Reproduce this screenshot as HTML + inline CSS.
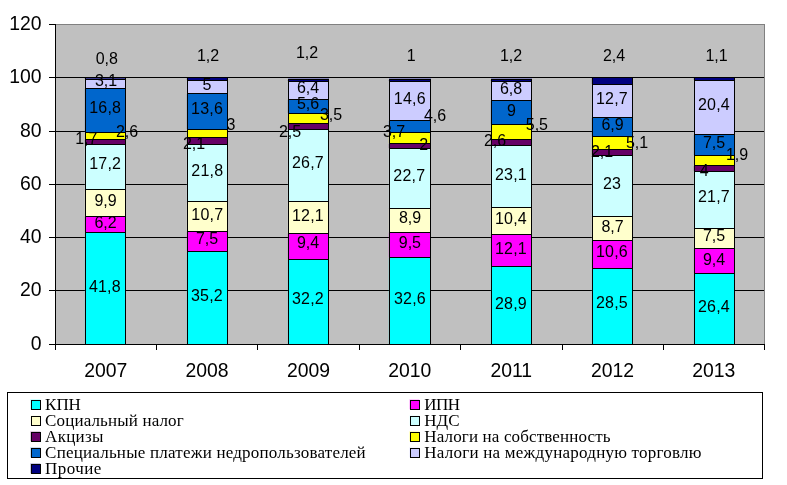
<!DOCTYPE html>
<html lang="ru"><head><meta charset="utf-8"><title>Chart</title>
<style>
html,body{margin:0;padding:0;background:#fff;}
body{width:787px;height:485px;overflow:hidden;}
svg{display:block;}
.ax{font-family:"Liberation Sans",sans-serif;font-size:20px;fill:#000;}
.dl{font-family:"Liberation Sans",sans-serif;font-size:16px;fill:#000;}
.lg{font-family:"Liberation Serif",serif;font-size:17px;fill:#000;}
</style></head>
<body>
<svg width="787" height="485" viewBox="0 0 787 485">
<rect x="0" y="0" width="787" height="485" fill="#ffffff"/>
<rect x="56" y="24" width="709" height="320" fill="#c0c0c0" shape-rendering="crispEdges"/>
<rect x="56" y="24" width="709" height="1" fill="#808080" shape-rendering="crispEdges"/>
<rect x="764" y="24" width="1" height="320" fill="#808080" shape-rendering="crispEdges"/>
<rect x="56" y="290" width="708" height="1" fill="#000" shape-rendering="crispEdges"/>
<rect x="56" y="237" width="708" height="1" fill="#000" shape-rendering="crispEdges"/>
<rect x="56" y="184" width="708" height="1" fill="#000" shape-rendering="crispEdges"/>
<rect x="56" y="131" width="708" height="1" fill="#000" shape-rendering="crispEdges"/>
<rect x="56" y="77" width="708" height="1" fill="#000" shape-rendering="crispEdges"/>
<rect x="85" y="232" width="41" height="113" fill="#000" shape-rendering="crispEdges"/><rect x="86" y="233" width="39" height="111" fill="#00ffff" shape-rendering="crispEdges"/><rect x="84" y="233" width="1" height="111" fill="#00ffff" opacity="0.12" shape-rendering="crispEdges"/>
<rect x="85" y="216" width="41" height="17" fill="#000" shape-rendering="crispEdges"/><rect x="86" y="217" width="39" height="15" fill="#ff00ff" shape-rendering="crispEdges"/><rect x="84" y="217" width="1" height="15" fill="#ff00ff" opacity="0.12" shape-rendering="crispEdges"/>
<rect x="85" y="189" width="41" height="28" fill="#000" shape-rendering="crispEdges"/><rect x="86" y="190" width="39" height="26" fill="#ffffcc" shape-rendering="crispEdges"/><rect x="84" y="190" width="1" height="26" fill="#ffffcc" opacity="0.12" shape-rendering="crispEdges"/>
<rect x="85" y="144" width="41" height="46" fill="#000" shape-rendering="crispEdges"/><rect x="86" y="145" width="39" height="44" fill="#ccffff" shape-rendering="crispEdges"/><rect x="84" y="145" width="1" height="44" fill="#ccffff" opacity="0.12" shape-rendering="crispEdges"/>
<rect x="85" y="139" width="41" height="6" fill="#000" shape-rendering="crispEdges"/><rect x="86" y="140" width="39" height="4" fill="#660066" shape-rendering="crispEdges"/><rect x="84" y="140" width="1" height="4" fill="#660066" opacity="0.12" shape-rendering="crispEdges"/>
<rect x="85" y="132" width="41" height="8" fill="#000" shape-rendering="crispEdges"/><rect x="86" y="133" width="39" height="6" fill="#ffff00" shape-rendering="crispEdges"/><rect x="84" y="133" width="1" height="6" fill="#ffff00" opacity="0.12" shape-rendering="crispEdges"/>
<rect x="85" y="88" width="41" height="45" fill="#000" shape-rendering="crispEdges"/><rect x="86" y="89" width="39" height="43" fill="#0066cc" shape-rendering="crispEdges"/><rect x="84" y="89" width="1" height="43" fill="#0066cc" opacity="0.12" shape-rendering="crispEdges"/>
<rect x="85" y="79" width="41" height="10" fill="#000" shape-rendering="crispEdges"/><rect x="86" y="80" width="39" height="8" fill="#ccccff" shape-rendering="crispEdges"/><rect x="84" y="80" width="1" height="8" fill="#ccccff" opacity="0.12" shape-rendering="crispEdges"/>
<rect x="85" y="77" width="41" height="3" fill="#000" shape-rendering="crispEdges"/><rect x="86" y="78" width="39" height="1" fill="#000080" shape-rendering="crispEdges"/><rect x="84" y="78" width="1" height="1" fill="#000080" opacity="0.12" shape-rendering="crispEdges"/>
<rect x="86" y="78" width="39" height="1" fill="#38388c" opacity="1" shape-rendering="crispEdges"/>
<rect x="187" y="251" width="41" height="94" fill="#000" shape-rendering="crispEdges"/><rect x="188" y="252" width="39" height="92" fill="#00ffff" shape-rendering="crispEdges"/><rect x="186" y="252" width="1" height="92" fill="#00ffff" opacity="0.12" shape-rendering="crispEdges"/>
<rect x="187" y="231" width="41" height="21" fill="#000" shape-rendering="crispEdges"/><rect x="188" y="232" width="39" height="19" fill="#ff00ff" shape-rendering="crispEdges"/><rect x="186" y="232" width="1" height="19" fill="#ff00ff" opacity="0.12" shape-rendering="crispEdges"/>
<rect x="187" y="201" width="41" height="31" fill="#000" shape-rendering="crispEdges"/><rect x="188" y="202" width="39" height="29" fill="#ffffcc" shape-rendering="crispEdges"/><rect x="186" y="202" width="1" height="29" fill="#ffffcc" opacity="0.12" shape-rendering="crispEdges"/>
<rect x="187" y="144" width="41" height="58" fill="#000" shape-rendering="crispEdges"/><rect x="188" y="145" width="39" height="56" fill="#ccffff" shape-rendering="crispEdges"/><rect x="186" y="145" width="1" height="56" fill="#ccffff" opacity="0.12" shape-rendering="crispEdges"/>
<rect x="187" y="137" width="41" height="8" fill="#000" shape-rendering="crispEdges"/><rect x="188" y="138" width="39" height="6" fill="#660066" shape-rendering="crispEdges"/><rect x="186" y="138" width="1" height="6" fill="#660066" opacity="0.12" shape-rendering="crispEdges"/>
<rect x="187" y="129" width="41" height="9" fill="#000" shape-rendering="crispEdges"/><rect x="188" y="130" width="39" height="7" fill="#ffff00" shape-rendering="crispEdges"/><rect x="186" y="130" width="1" height="7" fill="#ffff00" opacity="0.12" shape-rendering="crispEdges"/>
<rect x="187" y="93" width="41" height="37" fill="#000" shape-rendering="crispEdges"/><rect x="188" y="94" width="39" height="35" fill="#0066cc" shape-rendering="crispEdges"/><rect x="186" y="94" width="1" height="35" fill="#0066cc" opacity="0.12" shape-rendering="crispEdges"/>
<rect x="187" y="80" width="41" height="14" fill="#000" shape-rendering="crispEdges"/><rect x="188" y="81" width="39" height="12" fill="#ccccff" shape-rendering="crispEdges"/><rect x="186" y="81" width="1" height="12" fill="#ccccff" opacity="0.12" shape-rendering="crispEdges"/>
<rect x="187" y="77" width="41" height="4" fill="#000" shape-rendering="crispEdges"/><rect x="188" y="78" width="39" height="2" fill="#000080" shape-rendering="crispEdges"/><rect x="186" y="78" width="1" height="2" fill="#000080" opacity="0.12" shape-rendering="crispEdges"/>

<rect x="288" y="259" width="41" height="86" fill="#000" shape-rendering="crispEdges"/><rect x="289" y="260" width="39" height="84" fill="#00ffff" shape-rendering="crispEdges"/><rect x="287" y="260" width="1" height="84" fill="#00ffff" opacity="0.12" shape-rendering="crispEdges"/>
<rect x="288" y="233" width="41" height="27" fill="#000" shape-rendering="crispEdges"/><rect x="289" y="234" width="39" height="25" fill="#ff00ff" shape-rendering="crispEdges"/><rect x="287" y="234" width="1" height="25" fill="#ff00ff" opacity="0.12" shape-rendering="crispEdges"/>
<rect x="288" y="201" width="41" height="33" fill="#000" shape-rendering="crispEdges"/><rect x="289" y="202" width="39" height="31" fill="#ffffcc" shape-rendering="crispEdges"/><rect x="287" y="202" width="1" height="31" fill="#ffffcc" opacity="0.12" shape-rendering="crispEdges"/>
<rect x="288" y="129" width="41" height="73" fill="#000" shape-rendering="crispEdges"/><rect x="289" y="130" width="39" height="71" fill="#ccffff" shape-rendering="crispEdges"/><rect x="287" y="130" width="1" height="71" fill="#ccffff" opacity="0.12" shape-rendering="crispEdges"/>
<rect x="288" y="123" width="41" height="7" fill="#000" shape-rendering="crispEdges"/><rect x="289" y="124" width="39" height="5" fill="#660066" shape-rendering="crispEdges"/><rect x="287" y="124" width="1" height="5" fill="#660066" opacity="0.12" shape-rendering="crispEdges"/>
<rect x="288" y="113" width="41" height="11" fill="#000" shape-rendering="crispEdges"/><rect x="289" y="114" width="39" height="9" fill="#ffff00" shape-rendering="crispEdges"/><rect x="287" y="114" width="1" height="9" fill="#ffff00" opacity="0.12" shape-rendering="crispEdges"/>
<rect x="288" y="99" width="41" height="15" fill="#000" shape-rendering="crispEdges"/><rect x="289" y="100" width="39" height="13" fill="#0066cc" shape-rendering="crispEdges"/><rect x="287" y="100" width="1" height="13" fill="#0066cc" opacity="0.12" shape-rendering="crispEdges"/>
<rect x="288" y="81" width="41" height="19" fill="#000" shape-rendering="crispEdges"/><rect x="289" y="82" width="39" height="17" fill="#ccccff" shape-rendering="crispEdges"/><rect x="287" y="82" width="1" height="17" fill="#ccccff" opacity="0.12" shape-rendering="crispEdges"/>
<rect x="288" y="79" width="41" height="3" fill="#000" shape-rendering="crispEdges"/><rect x="289" y="80" width="39" height="1" fill="#000080" shape-rendering="crispEdges"/><rect x="287" y="80" width="1" height="1" fill="#000080" opacity="0.12" shape-rendering="crispEdges"/>
<rect x="288" y="78" width="41" height="1" fill="#8484ba" opacity="1" shape-rendering="crispEdges"/>
<rect x="389" y="257" width="42" height="88" fill="#000" shape-rendering="crispEdges"/><rect x="390" y="258" width="40" height="86" fill="#00ffff" shape-rendering="crispEdges"/><rect x="388" y="258" width="1" height="86" fill="#00ffff" opacity="0.12" shape-rendering="crispEdges"/>
<rect x="389" y="232" width="42" height="26" fill="#000" shape-rendering="crispEdges"/><rect x="390" y="233" width="40" height="24" fill="#ff00ff" shape-rendering="crispEdges"/><rect x="388" y="233" width="1" height="24" fill="#ff00ff" opacity="0.12" shape-rendering="crispEdges"/>
<rect x="389" y="208" width="42" height="25" fill="#000" shape-rendering="crispEdges"/><rect x="390" y="209" width="40" height="23" fill="#ffffcc" shape-rendering="crispEdges"/><rect x="388" y="209" width="1" height="23" fill="#ffffcc" opacity="0.12" shape-rendering="crispEdges"/>
<rect x="389" y="148" width="42" height="61" fill="#000" shape-rendering="crispEdges"/><rect x="390" y="149" width="40" height="59" fill="#ccffff" shape-rendering="crispEdges"/><rect x="388" y="149" width="1" height="59" fill="#ccffff" opacity="0.12" shape-rendering="crispEdges"/>
<rect x="389" y="143" width="42" height="6" fill="#000" shape-rendering="crispEdges"/><rect x="390" y="144" width="40" height="4" fill="#660066" shape-rendering="crispEdges"/><rect x="388" y="144" width="1" height="4" fill="#660066" opacity="0.12" shape-rendering="crispEdges"/>
<rect x="389" y="132" width="42" height="12" fill="#000" shape-rendering="crispEdges"/><rect x="390" y="133" width="40" height="10" fill="#ffff00" shape-rendering="crispEdges"/><rect x="388" y="133" width="1" height="10" fill="#ffff00" opacity="0.12" shape-rendering="crispEdges"/>
<rect x="389" y="120" width="42" height="13" fill="#000" shape-rendering="crispEdges"/><rect x="390" y="121" width="40" height="11" fill="#0066cc" shape-rendering="crispEdges"/><rect x="388" y="121" width="1" height="11" fill="#0066cc" opacity="0.12" shape-rendering="crispEdges"/>
<rect x="389" y="81" width="42" height="40" fill="#000" shape-rendering="crispEdges"/><rect x="390" y="82" width="40" height="38" fill="#ccccff" shape-rendering="crispEdges"/><rect x="388" y="82" width="1" height="38" fill="#ccccff" opacity="0.12" shape-rendering="crispEdges"/>
<rect x="389" y="79" width="42" height="3" fill="#000" shape-rendering="crispEdges"/><rect x="390" y="80" width="40" height="1" fill="#000080" shape-rendering="crispEdges"/><rect x="388" y="80" width="1" height="1" fill="#000080" opacity="0.12" shape-rendering="crispEdges"/>
<rect x="389" y="78" width="42" height="1" fill="#8484ba" opacity="1" shape-rendering="crispEdges"/>
<rect x="491" y="266" width="41" height="79" fill="#000" shape-rendering="crispEdges"/><rect x="492" y="267" width="39" height="77" fill="#00ffff" shape-rendering="crispEdges"/><rect x="490" y="267" width="1" height="77" fill="#00ffff" opacity="0.12" shape-rendering="crispEdges"/>
<rect x="491" y="234" width="41" height="33" fill="#000" shape-rendering="crispEdges"/><rect x="492" y="235" width="39" height="31" fill="#ff00ff" shape-rendering="crispEdges"/><rect x="490" y="235" width="1" height="31" fill="#ff00ff" opacity="0.12" shape-rendering="crispEdges"/>
<rect x="491" y="207" width="41" height="28" fill="#000" shape-rendering="crispEdges"/><rect x="492" y="208" width="39" height="26" fill="#ffffcc" shape-rendering="crispEdges"/><rect x="490" y="208" width="1" height="26" fill="#ffffcc" opacity="0.12" shape-rendering="crispEdges"/>
<rect x="491" y="145" width="41" height="63" fill="#000" shape-rendering="crispEdges"/><rect x="492" y="146" width="39" height="61" fill="#ccffff" shape-rendering="crispEdges"/><rect x="490" y="146" width="1" height="61" fill="#ccffff" opacity="0.12" shape-rendering="crispEdges"/>
<rect x="491" y="139" width="41" height="7" fill="#000" shape-rendering="crispEdges"/><rect x="492" y="140" width="39" height="5" fill="#660066" shape-rendering="crispEdges"/><rect x="490" y="140" width="1" height="5" fill="#660066" opacity="0.12" shape-rendering="crispEdges"/>
<rect x="491" y="124" width="41" height="16" fill="#000" shape-rendering="crispEdges"/><rect x="492" y="125" width="39" height="14" fill="#ffff00" shape-rendering="crispEdges"/><rect x="490" y="125" width="1" height="14" fill="#ffff00" opacity="0.12" shape-rendering="crispEdges"/>
<rect x="491" y="100" width="41" height="25" fill="#000" shape-rendering="crispEdges"/><rect x="492" y="101" width="39" height="23" fill="#0066cc" shape-rendering="crispEdges"/><rect x="490" y="101" width="1" height="23" fill="#0066cc" opacity="0.12" shape-rendering="crispEdges"/>
<rect x="491" y="81" width="41" height="20" fill="#000" shape-rendering="crispEdges"/><rect x="492" y="82" width="39" height="18" fill="#ccccff" shape-rendering="crispEdges"/><rect x="490" y="82" width="1" height="18" fill="#ccccff" opacity="0.12" shape-rendering="crispEdges"/>
<rect x="491" y="79" width="41" height="3" fill="#000" shape-rendering="crispEdges"/><rect x="492" y="80" width="39" height="1" fill="#000080" shape-rendering="crispEdges"/><rect x="490" y="80" width="1" height="1" fill="#000080" opacity="0.12" shape-rendering="crispEdges"/>
<rect x="491" y="78" width="41" height="1" fill="#8484ba" opacity="1" shape-rendering="crispEdges"/>
<rect x="592" y="268" width="41" height="77" fill="#000" shape-rendering="crispEdges"/><rect x="593" y="269" width="39" height="75" fill="#00ffff" shape-rendering="crispEdges"/><rect x="591" y="269" width="1" height="75" fill="#00ffff" opacity="0.12" shape-rendering="crispEdges"/>
<rect x="592" y="240" width="41" height="29" fill="#000" shape-rendering="crispEdges"/><rect x="593" y="241" width="39" height="27" fill="#ff00ff" shape-rendering="crispEdges"/><rect x="591" y="241" width="1" height="27" fill="#ff00ff" opacity="0.12" shape-rendering="crispEdges"/>
<rect x="592" y="216" width="41" height="25" fill="#000" shape-rendering="crispEdges"/><rect x="593" y="217" width="39" height="23" fill="#ffffcc" shape-rendering="crispEdges"/><rect x="591" y="217" width="1" height="23" fill="#ffffcc" opacity="0.12" shape-rendering="crispEdges"/>
<rect x="592" y="155" width="41" height="62" fill="#000" shape-rendering="crispEdges"/><rect x="593" y="156" width="39" height="60" fill="#ccffff" shape-rendering="crispEdges"/><rect x="591" y="156" width="1" height="60" fill="#ccffff" opacity="0.12" shape-rendering="crispEdges"/>
<rect x="592" y="149" width="41" height="7" fill="#000" shape-rendering="crispEdges"/><rect x="593" y="150" width="39" height="5" fill="#660066" shape-rendering="crispEdges"/><rect x="591" y="150" width="1" height="5" fill="#660066" opacity="0.12" shape-rendering="crispEdges"/>
<rect x="592" y="136" width="41" height="14" fill="#000" shape-rendering="crispEdges"/><rect x="593" y="137" width="39" height="12" fill="#ffff00" shape-rendering="crispEdges"/><rect x="591" y="137" width="1" height="12" fill="#ffff00" opacity="0.12" shape-rendering="crispEdges"/>
<rect x="592" y="117" width="41" height="20" fill="#000" shape-rendering="crispEdges"/><rect x="593" y="118" width="39" height="18" fill="#0066cc" shape-rendering="crispEdges"/><rect x="591" y="118" width="1" height="18" fill="#0066cc" opacity="0.12" shape-rendering="crispEdges"/>
<rect x="592" y="84" width="41" height="34" fill="#000" shape-rendering="crispEdges"/><rect x="593" y="85" width="39" height="32" fill="#ccccff" shape-rendering="crispEdges"/><rect x="591" y="85" width="1" height="32" fill="#ccccff" opacity="0.12" shape-rendering="crispEdges"/>
<rect x="592" y="77" width="41" height="8" fill="#000" shape-rendering="crispEdges"/><rect x="593" y="78" width="39" height="6" fill="#000080" shape-rendering="crispEdges"/><rect x="591" y="78" width="1" height="6" fill="#000080" opacity="0.12" shape-rendering="crispEdges"/>

<rect x="694" y="273" width="41" height="72" fill="#000" shape-rendering="crispEdges"/><rect x="695" y="274" width="39" height="70" fill="#00ffff" shape-rendering="crispEdges"/><rect x="693" y="274" width="1" height="70" fill="#00ffff" opacity="0.12" shape-rendering="crispEdges"/>
<rect x="694" y="248" width="41" height="26" fill="#000" shape-rendering="crispEdges"/><rect x="695" y="249" width="39" height="24" fill="#ff00ff" shape-rendering="crispEdges"/><rect x="693" y="249" width="1" height="24" fill="#ff00ff" opacity="0.12" shape-rendering="crispEdges"/>
<rect x="694" y="228" width="41" height="21" fill="#000" shape-rendering="crispEdges"/><rect x="695" y="229" width="39" height="19" fill="#ffffcc" shape-rendering="crispEdges"/><rect x="693" y="229" width="1" height="19" fill="#ffffcc" opacity="0.12" shape-rendering="crispEdges"/>
<rect x="694" y="171" width="41" height="58" fill="#000" shape-rendering="crispEdges"/><rect x="695" y="172" width="39" height="56" fill="#ccffff" shape-rendering="crispEdges"/><rect x="693" y="172" width="1" height="56" fill="#ccffff" opacity="0.12" shape-rendering="crispEdges"/>
<rect x="694" y="165" width="41" height="7" fill="#000" shape-rendering="crispEdges"/><rect x="695" y="166" width="39" height="5" fill="#660066" shape-rendering="crispEdges"/><rect x="693" y="166" width="1" height="5" fill="#660066" opacity="0.12" shape-rendering="crispEdges"/>
<rect x="694" y="155" width="41" height="11" fill="#000" shape-rendering="crispEdges"/><rect x="695" y="156" width="39" height="9" fill="#ffff00" shape-rendering="crispEdges"/><rect x="693" y="156" width="1" height="9" fill="#ffff00" opacity="0.12" shape-rendering="crispEdges"/>
<rect x="694" y="134" width="41" height="22" fill="#000" shape-rendering="crispEdges"/><rect x="695" y="135" width="39" height="20" fill="#0066cc" shape-rendering="crispEdges"/><rect x="693" y="135" width="1" height="20" fill="#0066cc" opacity="0.12" shape-rendering="crispEdges"/>
<rect x="694" y="80" width="41" height="55" fill="#000" shape-rendering="crispEdges"/><rect x="695" y="81" width="39" height="53" fill="#ccccff" shape-rendering="crispEdges"/><rect x="693" y="81" width="1" height="53" fill="#ccccff" opacity="0.12" shape-rendering="crispEdges"/>
<rect x="694" y="77" width="41" height="4" fill="#000" shape-rendering="crispEdges"/><rect x="695" y="78" width="39" height="2" fill="#000080" shape-rendering="crispEdges"/><rect x="693" y="78" width="1" height="2" fill="#000080" opacity="0.12" shape-rendering="crispEdges"/>

<rect x="55" y="24" width="1" height="326" fill="#000" shape-rendering="crispEdges"/>
<rect x="55" y="344" width="710" height="1" fill="#000" shape-rendering="crispEdges"/>
<rect x="49" y="344" width="6" height="1" fill="#000" shape-rendering="crispEdges"/><rect x="49" y="290" width="6" height="1" fill="#000" shape-rendering="crispEdges"/><rect x="49" y="237" width="6" height="1" fill="#000" shape-rendering="crispEdges"/><rect x="49" y="184" width="6" height="1" fill="#000" shape-rendering="crispEdges"/><rect x="49" y="131" width="6" height="1" fill="#000" shape-rendering="crispEdges"/><rect x="49" y="77" width="6" height="1" fill="#000" shape-rendering="crispEdges"/><rect x="49" y="24" width="6" height="1" fill="#000" shape-rendering="crispEdges"/>
<rect x="55" y="344" width="1" height="6" fill="#000" shape-rendering="crispEdges"/><rect x="156" y="344" width="1" height="6" fill="#000" shape-rendering="crispEdges"/><rect x="257" y="344" width="1" height="6" fill="#000" shape-rendering="crispEdges"/><rect x="359" y="344" width="1" height="6" fill="#000" shape-rendering="crispEdges"/><rect x="460" y="344" width="1" height="6" fill="#000" shape-rendering="crispEdges"/><rect x="562" y="344" width="1" height="6" fill="#000" shape-rendering="crispEdges"/><rect x="663" y="344" width="1" height="6" fill="#000" shape-rendering="crispEdges"/><rect x="764" y="344" width="1" height="6" fill="#000" shape-rendering="crispEdges"/>
<text class="ax" transform="translate(41.5,350.2) scale(0.97,1)" text-anchor="end">0</text>
<text class="ax" transform="translate(41.5,296.2) scale(0.97,1)" text-anchor="end">20</text>
<text class="ax" transform="translate(41.5,243.2) scale(0.97,1)" text-anchor="end">40</text>
<text class="ax" transform="translate(41.5,190.2) scale(0.97,1)" text-anchor="end">60</text>
<text class="ax" transform="translate(41.5,137.2) scale(0.97,1)" text-anchor="end">80</text>
<text class="ax" transform="translate(41.5,83.2) scale(0.97,1)" text-anchor="end">100</text>
<text class="ax" transform="translate(41.5,30.2) scale(0.97,1)" text-anchor="end">120</text>
<text class="ax" transform="translate(105.7,377) scale(0.97,1)" text-anchor="middle">2007</text>
<text class="ax" transform="translate(207.0,377) scale(0.97,1)" text-anchor="middle">2008</text>
<text class="ax" transform="translate(308.5,377) scale(0.97,1)" text-anchor="middle">2009</text>
<text class="ax" transform="translate(409.8,377) scale(0.97,1)" text-anchor="middle">2010</text>
<text class="ax" transform="translate(511.3,377) scale(0.97,1)" text-anchor="middle">2011</text>
<text class="ax" transform="translate(612.6,377) scale(0.97,1)" text-anchor="middle">2012</text>
<text class="ax" transform="translate(713.8,377) scale(0.97,1)" text-anchor="middle">2013</text>
<text class="dl" x="104.9" y="291.7" text-anchor="middle" letter-spacing="0.2">41,8</text>
<text class="dl" x="105.5" y="228.4" text-anchor="middle">6,2</text>
<text class="dl" x="105.5" y="205.7" text-anchor="middle">9,9</text>
<text class="dl" x="105.2" y="169" text-anchor="middle" letter-spacing="0.2">17,2</text>
<text class="dl" x="86.3" y="144.3" text-anchor="middle">1,7</text>
<text class="dl" x="127" y="136.7" text-anchor="middle">2,6</text>
<text class="dl" x="105.2" y="112.9" text-anchor="middle" letter-spacing="0.2">16,8</text>
<text class="dl" x="106" y="85.7" text-anchor="middle">3,1</text>
<text class="dl" x="106.8" y="63.7" text-anchor="middle">0,8</text>
<text class="dl" x="207" y="300.8" text-anchor="middle" letter-spacing="0.2">35,2</text>
<text class="dl" x="207" y="244.1" text-anchor="middle">7,5</text>
<text class="dl" x="207.3" y="220.3" text-anchor="middle" letter-spacing="0.2">10,7</text>
<text class="dl" x="207.3" y="175.7" text-anchor="middle" letter-spacing="0.2">21,8</text>
<text class="dl" x="194" y="148.7" text-anchor="middle">2,1</text>
<text class="dl" x="231" y="129.7" text-anchor="middle">3</text>
<text class="dl" x="207.1" y="113.8" text-anchor="middle" letter-spacing="0.2">13,6</text>
<text class="dl" x="207" y="89.7" text-anchor="middle">5</text>
<text class="dl" x="208" y="60.7" text-anchor="middle">1,2</text>
<text class="dl" x="308" y="304.2" text-anchor="middle" letter-spacing="0.2">32,2</text>
<text class="dl" x="308" y="248.3" text-anchor="middle">9,4</text>
<text class="dl" x="308" y="220.8" text-anchor="middle" letter-spacing="0.2">12,1</text>
<text class="dl" x="308" y="168.3" text-anchor="middle" letter-spacing="0.2">26,7</text>
<text class="dl" x="290" y="136.7" text-anchor="middle">2,5</text>
<text class="dl" x="331" y="119.7" text-anchor="middle">3,5</text>
<text class="dl" x="308" y="108.7" text-anchor="middle">5,6</text>
<text class="dl" x="308" y="92.7" text-anchor="middle">6,4</text>
<text class="dl" x="307" y="57.7" text-anchor="middle">1,2</text>
<text class="dl" x="410" y="303.7" text-anchor="middle" letter-spacing="0.2">32,6</text>
<text class="dl" x="409.9" y="247.7" text-anchor="middle">9,5</text>
<text class="dl" x="410" y="222.7" text-anchor="middle">8,9</text>
<text class="dl" x="409.3" y="180.7" text-anchor="middle" letter-spacing="0.2">22,7</text>
<text class="dl" x="423.8" y="150.4" text-anchor="middle">2</text>
<text class="dl" x="394" y="136.7" text-anchor="middle">3,7</text>
<text class="dl" x="435" y="120.7" text-anchor="middle">4,6</text>
<text class="dl" x="409.8" y="103.7" text-anchor="middle" letter-spacing="0.2">14,6</text>
<text class="dl" x="411.2" y="60.7" text-anchor="middle">1</text>
<text class="dl" x="511" y="308.7" text-anchor="middle" letter-spacing="0.2">28,9</text>
<text class="dl" x="511" y="254.3" text-anchor="middle" letter-spacing="0.2">12,1</text>
<text class="dl" x="511" y="223.7" text-anchor="middle" letter-spacing="0.2">10,4</text>
<text class="dl" x="511" y="179.7" text-anchor="middle" letter-spacing="0.2">23,1</text>
<text class="dl" x="495" y="145.9" text-anchor="middle">2,6</text>
<text class="dl" x="536.9" y="129.7" text-anchor="middle">5,5</text>
<text class="dl" x="511.4" y="115.7" text-anchor="middle">9</text>
<text class="dl" x="511" y="93.7" text-anchor="middle">6,8</text>
<text class="dl" x="511" y="60.7" text-anchor="middle">1,2</text>
<text class="dl" x="612" y="308.3" text-anchor="middle" letter-spacing="0.2">28,5</text>
<text class="dl" x="612" y="256.7" text-anchor="middle" letter-spacing="0.2">10,6</text>
<text class="dl" x="612.6" y="232.3" text-anchor="middle">8,7</text>
<text class="dl" x="612" y="188.7" text-anchor="middle">23</text>
<text class="dl" x="602.1" y="156.7" text-anchor="middle">2,1</text>
<text class="dl" x="637" y="147.7" text-anchor="middle">5,1</text>
<text class="dl" x="612.6" y="129.7" text-anchor="middle">6,9</text>
<text class="dl" x="612" y="103.7" text-anchor="middle" letter-spacing="0.2">12,7</text>
<text class="dl" x="614" y="60.7" text-anchor="middle">2,4</text>
<text class="dl" x="714" y="311.7" text-anchor="middle" letter-spacing="0.2">26,4</text>
<text class="dl" x="714" y="264.5" text-anchor="middle">9,4</text>
<text class="dl" x="714" y="241.3" text-anchor="middle">7,5</text>
<text class="dl" x="714" y="201.7" text-anchor="middle" letter-spacing="0.2">21,7</text>
<text class="dl" x="737" y="159.7" text-anchor="middle">1,9</text>
<text class="dl" x="704.3" y="175.7" text-anchor="middle">4</text>
<text class="dl" x="714" y="147.7" text-anchor="middle">7,5</text>
<text class="dl" x="714" y="109.7" text-anchor="middle" letter-spacing="0.2">20,4</text>
<text class="dl" x="716.6" y="60.7" text-anchor="middle">1,1</text>
<rect x="7.5" y="392.5" width="755" height="86" fill="#fff" stroke="#000" stroke-width="1" shape-rendering="crispEdges"/>
<rect x="30.3" y="399.3" width="10" height="10" fill="#00ffff" opacity="0.3"/><rect x="31.5" y="400.5" width="9" height="9" fill="#00ffff" stroke="#000" stroke-width="1"/><text class="lg" x="45.1" y="410" textLength="35.8" lengthAdjust="spacing">КПН</text>
<rect x="409.3" y="399.3" width="10" height="10" fill="#ff00ff" opacity="0.3"/><rect x="410.5" y="400.5" width="9" height="9" fill="#ff00ff" stroke="#000" stroke-width="1"/><text class="lg" x="424.3" y="410" textLength="35.8" lengthAdjust="spacing">ИПН</text>
<rect x="30.3" y="415.3" width="10" height="10" fill="#ffffcc" opacity="0.3"/><rect x="31.5" y="416.5" width="9" height="9" fill="#ffffcc" stroke="#000" stroke-width="1"/><text class="lg" x="45.1" y="426" textLength="138.6" lengthAdjust="spacing">Социальный налог</text>
<rect x="409.3" y="415.3" width="10" height="10" fill="#ccffff" opacity="0.3"/><rect x="410.5" y="416.5" width="9" height="9" fill="#ccffff" stroke="#000" stroke-width="1"/><text class="lg" x="424.3" y="426" textLength="35.3" lengthAdjust="spacing">НДС</text>
<rect x="30.3" y="431.3" width="10" height="10" fill="#660066" opacity="0.3"/><rect x="31.5" y="432.5" width="9" height="9" fill="#660066" stroke="#000" stroke-width="1"/><text class="lg" x="45.1" y="442" textLength="58.3" lengthAdjust="spacing">Акцизы</text>
<rect x="409.3" y="431.3" width="10" height="10" fill="#ffff00" opacity="0.3"/><rect x="410.5" y="432.5" width="9" height="9" fill="#ffff00" stroke="#000" stroke-width="1"/><text class="lg" x="424.3" y="442" textLength="186.3" lengthAdjust="spacing">Налоги на собственность</text>
<rect x="30.3" y="447.3" width="10" height="10" fill="#0066cc" opacity="0.3"/><rect x="31.5" y="448.5" width="9" height="9" fill="#0066cc" stroke="#000" stroke-width="1"/><text class="lg" x="45.1" y="458" textLength="320.6" lengthAdjust="spacing">Специальные платежи недропользователей</text>
<rect x="409.3" y="447.3" width="10" height="10" fill="#ccccff" opacity="0.3"/><rect x="410.5" y="448.5" width="9" height="9" fill="#ccccff" stroke="#000" stroke-width="1"/><text class="lg" x="424.3" y="458" textLength="277.2" lengthAdjust="spacing">Налоги на международную торговлю</text>
<rect x="30.3" y="463.3" width="10" height="10" fill="#000080" opacity="0.3"/><rect x="31.5" y="464.5" width="9" height="9" fill="#000080" stroke="#000" stroke-width="1"/><text class="lg" x="45.1" y="474" textLength="56.3" lengthAdjust="spacing">Прочие</text>
</svg>
</body></html>
